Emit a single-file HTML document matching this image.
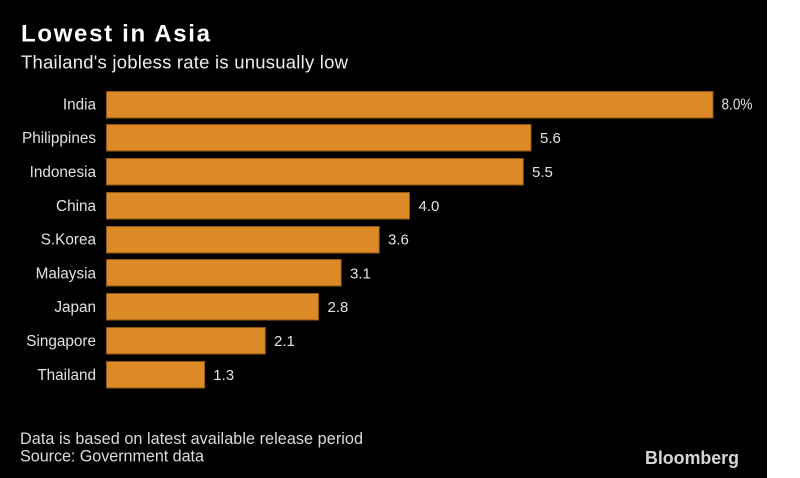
<!DOCTYPE html>
<html>
<head>
<meta charset="utf-8">
<style>
  html,body{margin:0;padding:0;background:#ffffff;}
  body{width:800px;height:478px;overflow:hidden;position:relative;}
  svg{position:absolute;left:0;top:0;}
</style>
</head>
<body>
<svg width="800" height="478" viewBox="0 0 800 478" xmlns="http://www.w3.org/2000/svg">
  <rect x="0" y="0" width="800" height="478" fill="#ffffff"/>
  <rect x="0" y="0" width="767" height="478" fill="#000000"/>

  <text x="21" y="41.7" font-family="Liberation Sans, sans-serif" font-weight="bold" font-size="24" fill="#ffffff" textLength="189" lengthAdjust="spacing">Lowest in Asia</text>
  <text x="21" y="68.5" font-family="Liberation Sans, sans-serif" font-size="18.5" fill="#ececec" textLength="327" lengthAdjust="spacing">Thailand's jobless rate is unusually low</text>

  <g fill="#dc8a27" stroke="#8f5817" stroke-width="1">
    <rect x="106.5" y="91.5" width="606.5" height="26.5"/>
    <rect x="106.5" y="124.5" width="424.5" height="26.5"/>
    <rect x="106.5" y="158.5" width="416.8" height="26.5"/>
    <rect x="106.5" y="192.5" width="303" height="26.5"/>
    <rect x="106.5" y="226.5" width="272.7" height="26.5"/>
    <rect x="106.5" y="259.5" width="234.7" height="26.5"/>
    <rect x="106.5" y="293.5" width="212" height="26.5"/>
    <rect x="106.5" y="327.5" width="158.8" height="26.5"/>
    <rect x="106.5" y="361.5" width="98.1" height="26.5"/>
  </g>

  <g font-family="Liberation Sans, sans-serif" font-size="15.3" fill="#e2e2e2" text-anchor="end">
    <text x="96" y="109.5">India</text>
    <text x="96" y="143">Philippines</text>
    <text x="96" y="177">Indonesia</text>
    <text x="96" y="211">China</text>
    <text x="96" y="244.5">S.Korea</text>
    <text x="96" y="278.5">Malaysia</text>
    <text x="96" y="312">Japan</text>
    <text x="96" y="346">Singapore</text>
    <text x="96" y="380">Thailand</text>
  </g>

  <g font-family="Liberation Sans, sans-serif" font-size="15" fill="#e2e2e2">
    <text x="721.5" y="109.5" textLength="31" lengthAdjust="spacingAndGlyphs" font-size="15.5">8.0%</text>
    <text x="540" y="143">5.6</text>
    <text x="532" y="177">5.5</text>
    <text x="418.5" y="211">4.0</text>
    <text x="388" y="244.5">3.6</text>
    <text x="350" y="278.5">3.1</text>
    <text x="327.5" y="312">2.8</text>
    <text x="274" y="346">2.1</text>
    <text x="213.3" y="380">1.3</text>
  </g>

  <text x="20" y="444" font-family="Liberation Sans, sans-serif" font-size="16.2" fill="#dadada" textLength="343" lengthAdjust="spacing">Data is based on latest available release period</text>
  <text x="20" y="461.7" font-family="Liberation Sans, sans-serif" font-size="16.2" fill="#dadada" textLength="184" lengthAdjust="spacing">Source: Government data</text>

  <text x="645" y="464" font-family="Liberation Sans, sans-serif" font-weight="bold" font-size="18" fill="#d6d6d6" textLength="94" lengthAdjust="spacingAndGlyphs">Bloomberg</text>
</svg>
</body>
</html>
